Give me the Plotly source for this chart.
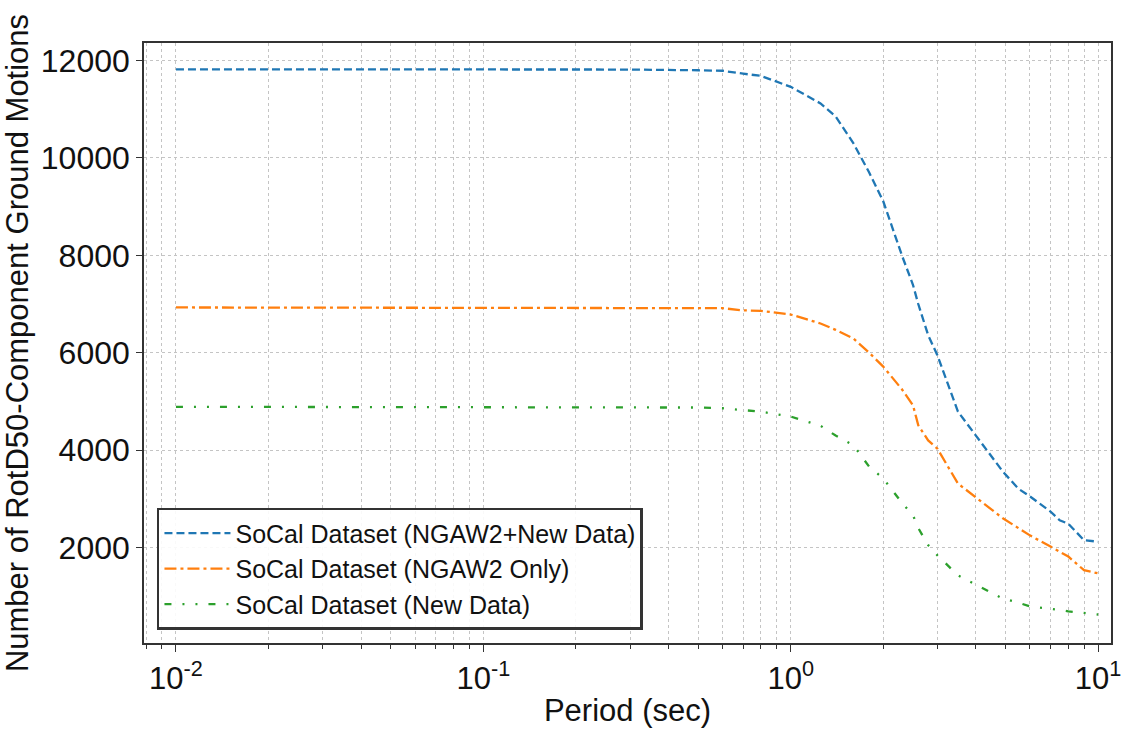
import plotly.graph_objects as go

# Spectral periods (sec) at which record counts are tabulated
period = [0.01, 0.02, 0.05, 0.1, 0.2, 0.3, 0.5, 0.6, 0.7, 0.8, 1.0, 1.25, 1.4, 1.6,
          1.8, 2.0, 2.3, 2.5, 2.6, 2.8, 3.0, 3.5, 4.9, 5.5, 6.0, 7.0, 7.5, 8.0, 9.0, 10.0]

# Number of RotD50-component ground motions per dataset
n_combined = [11820, 11820, 11820, 11820, 11820, 11815, 11800, 11790, 11730, 11685, 11460, 11120,
              10850, 10300, 9700, 9110, 8000, 7390, 7000, 6360, 5950, 4790, 3560, 3210, 3050,
              2740, 2560, 2490, 2150, 2120]
n_ngaw2 = [6930, 6930, 6930, 6930, 6930, 6930, 6925, 6915, 6870, 6860, 6785, 6600,
           6470, 6290, 6000, 5715, 5250, 4920, 4510, 4200, 4030, 3315, 2600, 2400, 2250,
           2020, 1920, 1815, 1535, 1470]
n_new = [4890, 4890, 4890, 4890, 4890, 4885, 4875, 4860, 4820, 4790, 4690, 4500,
         4300, 4100, 3660, 3420, 2920, 2660, 2400, 2050, 1840, 1430, 950, 870, 790,
         750, 720, 690, 650, 625]

y_ticks = [2000, 4000, 6000, 8000, 10000, 12000]
y_tick_text = ["2000", "4000", "6000", "8000", "10000", "12000"]
x_ticks = [0.01, 0.1, 1, 10]
x_tick_text = ["10<sup>-2</sup>", "10<sup>-1</sup>", "10<sup>0</sup>", "10<sup>1</sup>"]

series = [
    ("SoCal Dataset (NGAW2+New Data)", n_combined, "#1f77b4", "8px,4px"),
    ("SoCal Dataset (NGAW2 Only)", n_ngaw2, "#ff7f0e", "12px,4px,3px,4px"),
    ("SoCal Dataset (New Data)", n_new, "#2ca02c", "7px,11px,2px,11px,2px,11px"),
]

fig = go.Figure()
for name, vals, color, dash in series:
    fig.add_trace(go.Scatter(
        x=period, y=vals, mode="lines", name=name,
        line=dict(color=color, width=2.3, dash=dash),
    ))

# minor log ticks: 2..9 within each decade
minor_x = [m * 10 ** e for e in (-3, -2, -1, 0, 1) for m in range(2, 10)]

grid_color = "#c4c4c4"
axis_color = "#333333"
font_family = "Liberation Sans, Arial, sans-serif"

fig.update_layout(
    template="none",
    width=1126, height=736,
    margin=dict(l=144, r=15, t=43, b=93),
    paper_bgcolor="white", plot_bgcolor="white",
    font=dict(family=font_family, color="#111111"),
    showlegend=True,
    legend=dict(
        x=0.0134, y=0.022, xanchor="left", yanchor="bottom",
        bgcolor="rgba(255,255,255,0.9)", bordercolor="#333333", borderwidth=2.5,
        font=dict(size=25, color="#111111", family=font_family),
        itemwidth=66, tracegroupgap=2,
    ),
)

fig.update_xaxes(
    type="log", range=[-2.104, 1.042], automargin=False,
    tickmode="array", tickvals=x_ticks, ticktext=x_tick_text,
    tickfont=dict(size=31), ticks="outside", ticklen=7, tickwidth=1.2, tickcolor=axis_color,
    showgrid=True, gridcolor=grid_color, griddash="dot", gridwidth=1,
    minor=dict(tickmode="array", tickvals=minor_x, ticks="outside", ticklen=4,
               tickcolor=axis_color, showgrid=True, gridcolor=grid_color, griddash="dot",
               gridwidth=1),
    showline=True, linecolor=axis_color, linewidth=1.6, mirror=True,
    title=dict(text="Period (sec)", font=dict(size=31), standoff=4),
    zeroline=False,
)

fig.update_yaxes(
    range=[40, 12360], automargin=False,
    tickmode="array", tickvals=y_ticks, ticktext=y_tick_text,
    tickfont=dict(size=32), ticks="outside", ticklen=6, tickwidth=1.2, tickcolor=axis_color,
    showgrid=True, gridcolor=grid_color, griddash="dot", gridwidth=1,
    showline=True, linecolor=axis_color, linewidth=1.6, mirror=True,
    title=dict(text="Number of RotD50-Component Ground Motions", font=dict(size=31), standoff=6),
    zeroline=False,
)

fig.write_html("out.html")
